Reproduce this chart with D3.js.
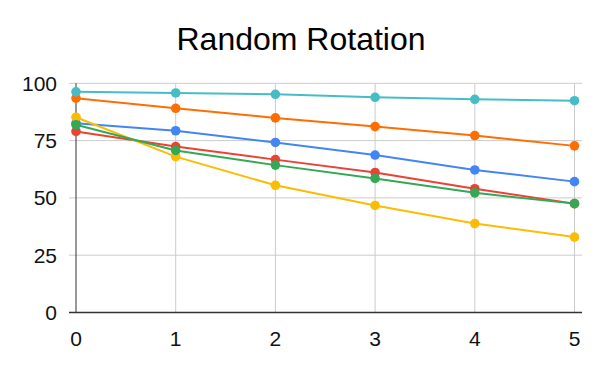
<!DOCTYPE html>
<html>
<head>
<meta charset="utf-8">
<script src="https://cdn.jsdelivr.net/npm/d3@7"></script>
<style>
  body { margin: 0; background: #fff; }
  text { font-family: Arial, "Liberation Sans", sans-serif; }
</style>
</head>
<body>
<script>
var w = 600;
var h = 371;

// data
var steps = [0, 1, 2, 3, 4, 5];
var yTicks = [0, 25, 50, 75, 100];
var blue   = [82.6, 79.3, 74.2, 68.7, 62.2, 57.1];
var red    = [79.0, 72.4, 66.7, 61.1, 54.0, 47.5];
var yellow = [85.2, 68.0, 55.5, 46.7, 38.8, 32.9];
var green  = [81.9, 70.7, 64.3, 58.5, 52.2, 47.5];
var orange = [93.5, 89.1, 84.9, 81.1, 77.2, 72.7];
var cyan   = [96.3, 95.8, 95.2, 93.9, 93.0, 92.4];

var series = [
  { values: blue,   color: "#4285F4" },
  { values: red,    color: "#EA4335" },
  { values: yellow, color: "#FBBC04" },
  { values: green,  color: "#34A853" },
  { values: orange, color: "#FF6D01" },
  { values: cyan,   color: "#46BDC6" }
];

var svg = d3.select("body").append("svg").attr("width", w).attr("height", h);

var xScale = d3.scaleLinear().domain([0, 5]).range([76, 574.5]);
var yScale = d3.scaleLinear().domain([0, 100]).range([312.5, 83.3]);

svg.append("text")
    .attr("x", 301).attr("y", 49.5)
    .attr("text-anchor", "middle")
    .style("font-size", "32px")
    .style("fill", "#000")
    .text("Random Rotation");

// horizontal grid
svg.selectAll(".hgrid").data(yTicks.slice(1)).enter().append("line")
    .attr("x1", 69).attr("x2", 582)
    .attr("y1", function (d) { return yScale(d); })
    .attr("y2", function (d) { return yScale(d); })
    .style("stroke", "#cccccc").style("stroke-width", 1);

// vertical grid
svg.selectAll(".vgrid").data(steps.slice(1)).enter().append("line")
    .attr("x1", function (d) { return xScale(d); })
    .attr("x2", function (d) { return xScale(d); })
    .attr("y1", yScale(100)).attr("y2", yScale(0))
    .style("stroke", "#cccccc").style("stroke-width", 1);

// axes lines
svg.append("line")
    .attr("x1", xScale(0)).attr("x2", xScale(0))
    .attr("y1", yScale(100)).attr("y2", yScale(0))
    .style("stroke", "#333").style("stroke-width", 1);
svg.append("line")
    .attr("x1", 69).attr("x2", 582)
    .attr("y1", yScale(0)).attr("y2", yScale(0))
    .style("stroke", "#333").style("stroke-width", 1.3);

// tick labels
svg.selectAll(".ylab").data(yTicks).enter().append("text")
    .attr("x", 57)
    .attr("y", function (d) { return yScale(d) + 7.5; })
    .attr("text-anchor", "end")
    .style("font-size", "21px").style("fill", "#111")
    .text(function (d) { return d; });

svg.selectAll(".xlab").data(steps).enter().append("text")
    .attr("x", function (d) { return xScale(d); })
    .attr("y", 345.5)
    .attr("text-anchor", "middle")
    .style("font-size", "21px").style("fill", "#111")
    .text(function (d) { return d; });

var line = d3.line()
    .x(function (d, i) { return xScale(steps[i]); })
    .y(function (d) { return yScale(d); });

series.forEach(function (s) {
  var g = svg.append("g");
  g.append("path")
      .attr("d", line(s.values))
      .style("fill", "none")
      .style("stroke", s.color)
      .style("stroke-width", 2);
  g.selectAll("circle").data(s.values).enter().append("circle")
      .attr("cx", function (d, i) { return xScale(steps[i]); })
      .attr("cy", function (d) { return yScale(d); })
      .attr("r", 4.8)
      .style("fill", s.color);
});
</script>
</body>
</html>
